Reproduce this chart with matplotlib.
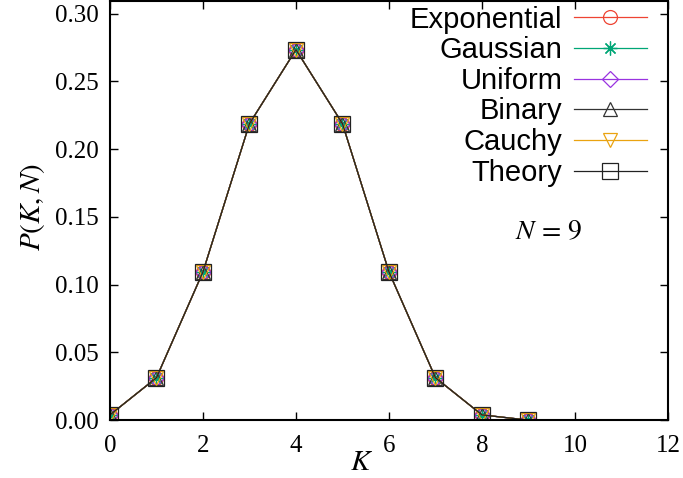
import matplotlib
matplotlib.use("Agg")
import matplotlib.pyplot as plt

plt.rcParams["mathtext.fontset"] = "stix"

k = [0, 1, 2, 3, 4, 5, 6, 7, 8, 9]
p_exponential = [0.0039, 0.0313, 0.1094, 0.2188, 0.2734, 0.2188, 0.1094, 0.0313, 0.0039, 0.0]
p_gaussian = [0.0039, 0.0313, 0.1094, 0.2188, 0.2734, 0.2188, 0.1094, 0.0313, 0.0039, 0.0]
p_uniform = [0.0039, 0.0313, 0.1094, 0.2188, 0.2734, 0.2188, 0.1094, 0.0313, 0.0039, 0.0]
p_binary = [0.0039, 0.0313, 0.1094, 0.2188, 0.2734, 0.2188, 0.1094, 0.0313, 0.0039, 0.0]
p_cauchy = [0.0039, 0.0313, 0.1094, 0.2188, 0.2734, 0.2188, 0.1094, 0.0313, 0.0039, 0.0]
p_theory = [0.0039, 0.0313, 0.1094, 0.2188, 0.2734, 0.2188, 0.1094, 0.0313, 0.0039, 0.0]

xticks = [0, 2, 4, 6, 8, 10, 12]
yticks = [0.00, 0.05, 0.10, 0.15, 0.20, 0.25, 0.30]

series = [
    ("Exponential", p_exponential, "#ee4433", "o"),
    ("Gaussian", p_gaussian, "#00a676", (8, 2, 0)),
    ("Uniform", p_uniform, "#9933e0", "D"),
    ("Binary", p_binary, "#333333", "^"),
    ("Cauchy", p_cauchy, "#eaa310", "v"),
    ("Theory", p_theory, "#222222", "s"),
]

fig = plt.figure(figsize=(6.83, 4.78), dpi=100)
ax = fig.add_axes([0.161, 0.121, 0.817, 0.876])

for name, vals, col, mk in series:
    ms = 10
    if mk == "D":
        ms = 8
    elif mk == "s":
        ms = 11
    ax.plot(k, vals, color=col, lw=0.9, marker=mk, ms=ms, mfc="none",
            mec=col, mew=0.9, label=name)

ax.set_xlim(0, 12)
ax.set_ylim(0, 0.309)
ax.set_xticks(xticks)
ax.set_yticks(yticks)
ax.set_xticklabels([str(t) for t in xticks], family="Liberation Serif", fontsize=18)
ax.set_yticklabels(["%.2f" % t for t in yticks], family="Liberation Serif", fontsize=18)
ax.tick_params(direction="in", top=True, right=True, length=6, width=1)
ax.tick_params(axis="x", pad=11)
ax.tick_params(axis="y", pad=8)
for s in ax.spines.values():
    s.set_linewidth(1.5)

# axis labels placed on the figure directly
fig.text(0.530, 0.034, "$K$", fontsize=21, ha="center", va="center")
fig.text(0.047, 0.567, "$P(K,N)$", fontsize=21, ha="center", va="center",
         rotation=90)

ax.text(9.44, 0.139, "$N\\,=\\,9$", fontsize=20, ha="center", va="center")

leg = ax.legend(loc="upper right", bbox_to_anchor=(0.962, 0.99),
                frameon=False, markerfirst=False,
                prop={"family": "Liberation Sans", "size": 21},
                handlelength=2.5, handletextpad=0.4, labelspacing=0.09,
                borderaxespad=0, borderpad=0)

fig.savefig("out.png", dpi=100)
